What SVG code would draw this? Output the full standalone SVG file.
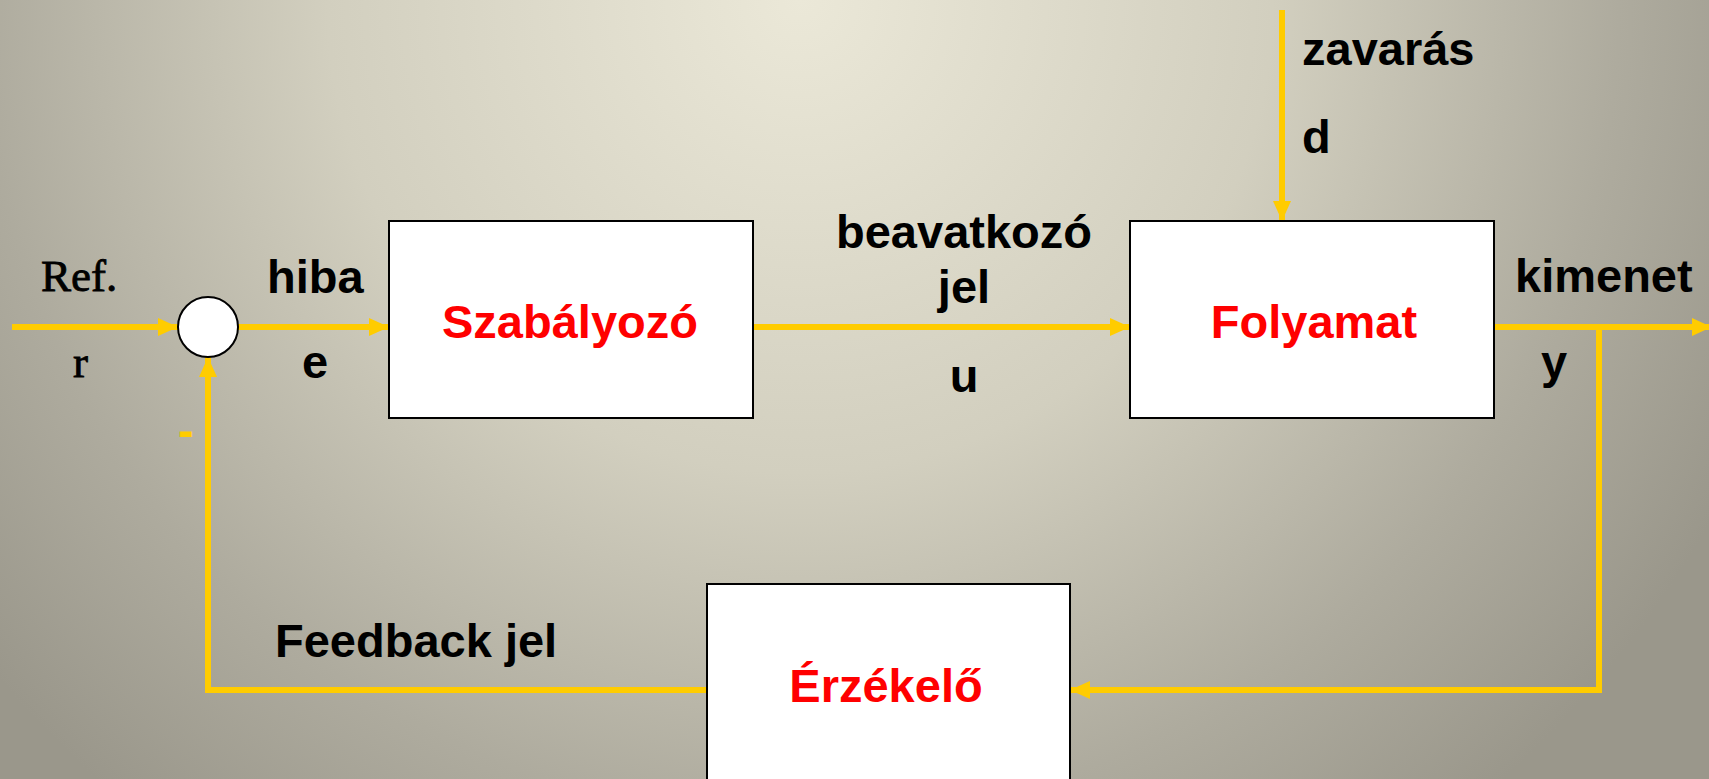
<svg xmlns="http://www.w3.org/2000/svg" width="1709" height="779" viewBox="0 0 1709 779">
<defs>
<radialGradient id="bg" gradientUnits="userSpaceOnUse" cx="800" cy="0" r="1050">
<stop offset="0" stop-color="#ebe8d8"/>
<stop offset="0.45" stop-color="#d2cfbf"/>
<stop offset="0.78" stop-color="#aeab9e"/>
<stop offset="1" stop-color="#9a978b"/>
</radialGradient>
<marker id="ah" markerUnits="userSpaceOnUse" markerWidth="20" markerHeight="20" viewBox="0 0 20 20" refX="20" refY="10" orient="auto">
<path d="M0,1 L20,10 L0,19 Z" fill="#ffcc00"/>
</marker>
</defs>
<style>
.ln{stroke:#ffcc00;stroke-width:6;fill:none}
.box{fill:#ffffff;stroke:#000000;stroke-width:2}
.lbl{font-family:"Liberation Sans",Arial,sans-serif;font-weight:bold;font-size:47px;fill:#000000}
.red{font-family:"Liberation Sans",Arial,sans-serif;font-weight:bold;font-size:47px;fill:#ff0000}
.ser{font-family:"Liberation Serif","Times New Roman",serif;font-size:45px;fill:#000000;stroke:#000000;stroke-width:0.8}
</style>
<rect x="0" y="0" width="1709" height="779" fill="url(#bg)"/>
<g id="connectors">
<line class="ln" x1="12" y1="327" x2="178" y2="327" marker-end="url(#ah)"/>
<line class="ln" x1="238" y1="327" x2="389" y2="327" marker-end="url(#ah)"/>
<line class="ln" x1="753" y1="327" x2="1130" y2="327" marker-end="url(#ah)"/>
<line class="ln" x1="1282" y1="10" x2="1282" y2="221" marker-end="url(#ah)"/>
<line class="ln" x1="1494" y1="327" x2="1712" y2="327" marker-end="url(#ah)"/>
<polyline class="ln" points="1599,327 1599,690 1070,690" marker-end="url(#ah)"/>
<polyline class="ln" points="707,690 208,690 208,357" marker-end="url(#ah)"/>
</g>
<g id="sum">
<circle cx="208" cy="327" r="30" fill="#ffffff" stroke="#000000" stroke-width="2"/>
</g>
<g id="szabalyozo">
<rect class="box" x="389" y="221" width="364" height="197"/>
<text class="red" x="570" y="338" text-anchor="middle">Szabályozó</text>
</g>
<g id="folyamat">
<rect class="box" x="1130" y="221" width="364" height="197"/>
<text class="red" x="1314" y="338" text-anchor="middle">Folyamat</text>
</g>
<g id="erzekelo">
<rect class="box" x="707" y="584" width="363" height="210"/>
<text class="red" x="886" y="702" text-anchor="middle">Érzékelő</text>
</g>
<g id="labels">
<text class="ser" x="41" y="291">Ref.</text>
<text class="ser" x="73" y="377">r</text>
<text class="lbl" x="267" y="293">hiba</text>
<text class="lbl" x="302" y="378">e</text>
<text class="lbl" x="964" y="248" text-anchor="middle">beavatkozó</text>
<text class="lbl" x="964" y="303" text-anchor="middle">jel</text>
<text class="lbl" x="964" y="392" text-anchor="middle">u</text>
<text class="lbl" x="1302" y="65">zavarás</text>
<text class="lbl" x="1302" y="153">d</text>
<text class="lbl" x="1515" y="292">kimenet</text>
<text class="lbl" x="1541" y="378">y</text>
<text class="lbl" x="275" y="657">Feedback jel</text>
<text x="178" y="446" font-family="Liberation Sans,Arial,sans-serif" font-weight="bold" font-size="47" fill="#ffcc00">-</text>
</g>
</svg>
